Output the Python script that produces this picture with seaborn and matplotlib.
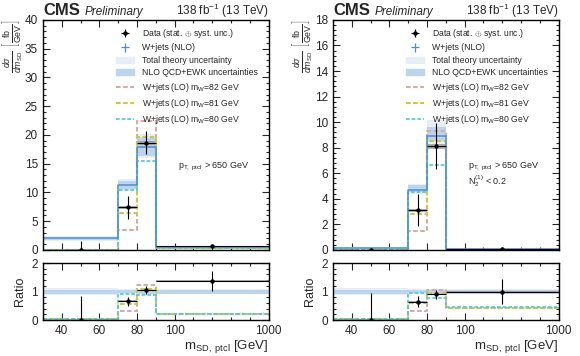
import numpy as np
import matplotlib
matplotlib.use('Agg')
from matplotlib import pyplot as plt
from matplotlib.lines import Line2D
from matplotlib.patches import Patch
import seaborn as sns

# bin edges in GeV (last bin 90-1000 is drawn compressed)
edges = [30, 70, 80, 90, 1000]

# left: p_T > 650 GeV
data_l = [0.0, 7.4, 18.6, 0.6]
data_err_l = [1.6, 2.0, 2.0, 0.2]
data_syst_l = [0.1, 0.3, 0.4, 0.05]
nlo_l = [2.0, 11.3, 17.9, 0.45]
qcd_lo_l = [1.8, 10.6, 16.4, 0.38]
qcd_hi_l = [2.25, 12.0, 19.5, 0.55]
tot_lo_l = [1.6, 10.3, 15.9, 0.34]
tot_hi_l = [2.4, 12.3, 20.1, 0.6]
lo82_l = [0.05, 3.5, 22.4, 0.35]
lo81_l = [0.05, 6.4, 19.7, 0.4]
lo80_l = [0.05, 10.4, 15.5, 0.4]
rdata_l = [0.0, 0.66, 1.04, 1.38]
rdata_err_l = [0.85, 0.15, 0.14, 0.35]
rdata_syst_l = [0.02, 0.03, 0.03, 0.04]
rlo82_l = [0.02, 0.32, 1.24, 0.22]
rlo81_l = [0.02, 0.56, 1.1, 0.22]
rlo80_l = [0.02, 0.91, 0.87, 0.22]

# right: p_T > 650 GeV, N2 < 0.2
data_r = [0.0, 3.1, 8.1, 0.07]
data_err_r = [0.15, 1.25, 1.8, 0.03]
data_syst_r = [0.02, 0.12, 0.2, 0.01]
nlo_r = [0.15, 4.7, 8.95, 0.07]
qcd_lo_r = [0.12, 4.5, 8.5, 0.06]
qcd_hi_r = [0.18, 5.05, 9.65, 0.08]
tot_lo_r = [0.1, 4.4, 8.2, 0.05]
tot_hi_r = [0.2, 5.15, 10.2, 0.09]
lo82_r = [0.03, 1.5, 9.3, 0.03]
lo81_r = [0.03, 2.8, 8.5, 0.03]
lo80_r = [0.03, 4.5, 6.65, 0.03]
rdata_r = [0.0, 0.65, 0.9, 1.0]
rdata_err_r = [0.95, 0.18, 0.15, 0.45]
rdata_syst_r = [0.02, 0.03, 0.03, 0.03]
rlo82_r = [0.05, 0.33, 1.07, 0.42]
rlo81_r = [0.05, 0.6, 0.95, 0.42]
rlo80_r = [0.05, 0.95, 0.77, 0.47]

qcd_rel = [0.07, 0.06, 0.07, 0.07]
tot_rel = [0.12, 0.08, 0.1, 0.1]

xticks = [40, 60, 80, 100, 1000]

C_NLO = '#4a8fd0'
C_QCD = '#bcd5ec'
C_TOT = '#e6eef7'
C_82 = '#d2aea8'
C_81 = '#cdc64a'
C_80 = '#4cc8d8'
DASH = (0, (2.2, 1.2))


def fwd(x):
    x = np.asarray(x, dtype=float)
    return np.where(x <= 100, x, 100 + (x - 100) * 50 / 900)


def inv(y):
    y = np.asarray(y, dtype=float)
    return np.where(y <= 100, y, 100 + (y - 100) * 18)


def step(ax, vals, **kw):
    sns.lineplot(x=edges, y=list(vals) + [vals[-1]], drawstyle='steps-post',
                 estimator=None, sort=False, ax=ax, **kw)


def band(ax, lo, hi, color, alpha=1.0):
    ax.fill_between(edges, list(lo) + [lo[-1]], list(hi) + [hi[-1]], step='post',
                    color=color, alpha=alpha, lw=0)


def style_x(ax):
    ax.set_xscale('function', functions=(fwd, inv))
    ax.set_xlim(30, 1000)
    ax.set_xticks(xticks)
    ax.xaxis.set_minor_locator(matplotlib.ticker.FixedLocator(inv(np.arange(30, 151, 10))))
    ax.tick_params(which='both', direction='in', top=True, right=True, width=0.8)
    ax.tick_params(which='major', length=5)
    ax.tick_params(which='minor', length=2.5)


def lo_lines(ax, l82, l81, l80):
    step(ax, l82, color=C_82, lw=1.5, linestyle=DASH)
    step(ax, l81, color=C_81, lw=1.5, linestyle=DASH)
    step(ax, l80, color=C_80, lw=1.2, linestyle=DASH)


def data_marks(ax, centers, lo_edges, hi_edges, d, derr, dsyst):
    dl = np.array(d)
    ax.fill_between(edges, list(dl - dsyst) + [dl[-1] - dsyst[-1]],
                    list(dl + dsyst) + [dl[-1] + dsyst[-1]], step='post',
                    color='#999999', alpha=0.8, lw=0)
    ax.errorbar(centers, d, yerr=derr, xerr=[centers - lo_edges, hi_edges - centers],
                fmt='o', ms=2.2, color='black', elinewidth=0.8, capsize=0)


def panel(fig, x0, d, derr, dsyst, nlo, qlo, qhi, tlo, thi, l82, l81, l80,
          rd, rderr, rdsyst, r82, r81, r80, ymax, ymaj, ymin, notes):
    top = fig.add_axes([x0, 0.298, 0.389, 0.646])
    bot = fig.add_axes([x0, 0.101, 0.389, 0.160])
    lo_edges = np.array(edges[:-1])
    hi_edges = np.array(edges[1:])
    centers = inv((fwd(lo_edges) + fwd(hi_edges)) / 2)

    # top panel
    band(top, tlo, thi, C_TOT)
    band(top, qlo, qhi, C_QCD)
    lo_lines(top, l82, l81, l80)
    step(top, nlo, color=C_NLO, lw=1.1)
    data_marks(top, centers, lo_edges, hi_edges, d, derr, dsyst)
    top.set_ylim(0, ymax)
    style_x(top)
    top.set_xticklabels([])
    top.yaxis.set_major_locator(matplotlib.ticker.MultipleLocator(ymaj))
    top.yaxis.set_minor_locator(matplotlib.ticker.MultipleLocator(ymin))
    top.set_ylabel(r'$\frac{d\sigma}{dm_{\mathrm{SD}}}$ $\left[\frac{\mathrm{fb}}{\mathrm{GeV}}\right]$',
                   loc='top', fontsize=9, labelpad=0)

    # ratio panel
    band(bot, [1 - v for v in tot_rel], [1 + v for v in tot_rel], C_TOT)
    band(bot, [1 - v for v in qcd_rel], [1 + v for v in qcd_rel], C_QCD)
    lo_lines(bot, r82, r81, r80)
    data_marks(bot, centers, lo_edges, hi_edges, rd, rderr, rdsyst)
    bot.set_ylim(0, 2)
    style_x(bot)
    bot.set_xticklabels([str(t) for t in xticks])
    bot.set_yticks([0, 1, 2])
    bot.yaxis.set_minor_locator(matplotlib.ticker.MultipleLocator(0.2))
    bot.set_ylabel('Ratio', fontsize=9, labelpad=4)
    bot.set_xlabel(r'm$_{\mathrm{SD,\ ptcl}}$ [GeV]', loc='right', fontsize=9.5, labelpad=1)

    # headers
    top.text(0.0, 1.022, 'CMS', transform=top.transAxes, fontsize=12,
             fontweight='bold', ha='left', va='baseline')
    top.text(0.185, 1.022, 'Preliminary', transform=top.transAxes, fontsize=8.5,
             style='italic', ha='left', va='baseline')
    top.text(1.0, 1.022, r'138 fb$^{-1}$ (13 TeV)', transform=top.transAxes,
             fontsize=8.5, ha='right', va='baseline')
    for i, note in enumerate(notes):
        top.text(0.6, 0.36 - i * 0.062, note, transform=top.transAxes, fontsize=6.5,
                 ha='left', va='center')

    handles = [
        top.errorbar([np.nan], [np.nan], yerr=1, xerr=1, fmt='o', ms=2.2,
                     color='black', elinewidth=0.8),
        top.errorbar([np.nan], [np.nan], yerr=1, xerr=1, fmt='none',
                     color=C_NLO, elinewidth=0.9),
        Patch(color=C_TOT),
        Patch(color=C_QCD),
        Line2D([], [], color=C_82, lw=1.5, linestyle=DASH),
        Line2D([], [], color=C_81, lw=1.5, linestyle=DASH),
        Line2D([], [], color=C_80, lw=1.2, linestyle=DASH),
    ]
    labels = [
        r'Data (stat. $\oplus$ syst. unc.)',
        'W+jets (NLO)',
        'Total theory uncertainty',
        'NLO QCD+EWK uncertainties',
        r'W+jets (LO) m$_{\mathrm{W}}$=82 GeV',
        r'W+jets (LO) m$_{\mathrm{W}}$=81 GeV',
        r'W+jets (LO) m$_{\mathrm{W}}$=80 GeV',
    ]
    top.legend(handles, labels, loc='upper left', bbox_to_anchor=(0.31, 0.985),
               frameon=False, fontsize=6.2, handlelength=2.0, labelspacing=0.4,
               handletextpad=1.0, borderaxespad=0)


def main():
    sns.set_theme(style='ticks')
    plt.rcParams['font.family'] = ['Liberation Sans', 'DejaVu Sans']
    plt.rcParams['mathtext.fontset'] = 'custom'
    plt.rcParams['mathtext.rm'] = 'Liberation Sans'
    plt.rcParams['mathtext.it'] = 'Liberation Sans:italic'
    plt.rcParams['mathtext.bf'] = 'Liberation Sans:bold'
    plt.rcParams['xtick.labelsize'] = 8.5
    plt.rcParams['ytick.labelsize'] = 8.5
    plt.rcParams['axes.linewidth'] = 1.0
    plt.rcParams['axes.edgecolor'] = 'black'

    fig = plt.figure(figsize=(5.8, 3.56), dpi=100)
    panel(fig, 0.074, data_l, data_err_l, data_syst_l, nlo_l, qcd_lo_l, qcd_hi_l,
          tot_lo_l, tot_hi_l, lo82_l, lo81_l, lo80_l,
          rdata_l, rdata_err_l, rdata_syst_l, rlo82_l, rlo81_l, rlo80_l,
          40, 5, 1, [r'p$_{\mathrm{T,\ ptcl}}$ > 650 GeV'])
    panel(fig, 0.574, data_r, data_err_r, data_syst_r, nlo_r, qcd_lo_r, qcd_hi_r,
          tot_lo_r, tot_hi_r, lo82_r, lo81_r, lo80_r,
          rdata_r, rdata_err_r, rdata_syst_r, rlo82_r, rlo81_r, rlo80_r,
          18, 2, 0.4, [r'p$_{\mathrm{T,\ ptcl}}$ > 650 GeV', r'N$_{2}^{(1)}$ < 0.2'])
    fig.savefig('out.png', dpi=100)


if __name__ == '__main__':
    main()
